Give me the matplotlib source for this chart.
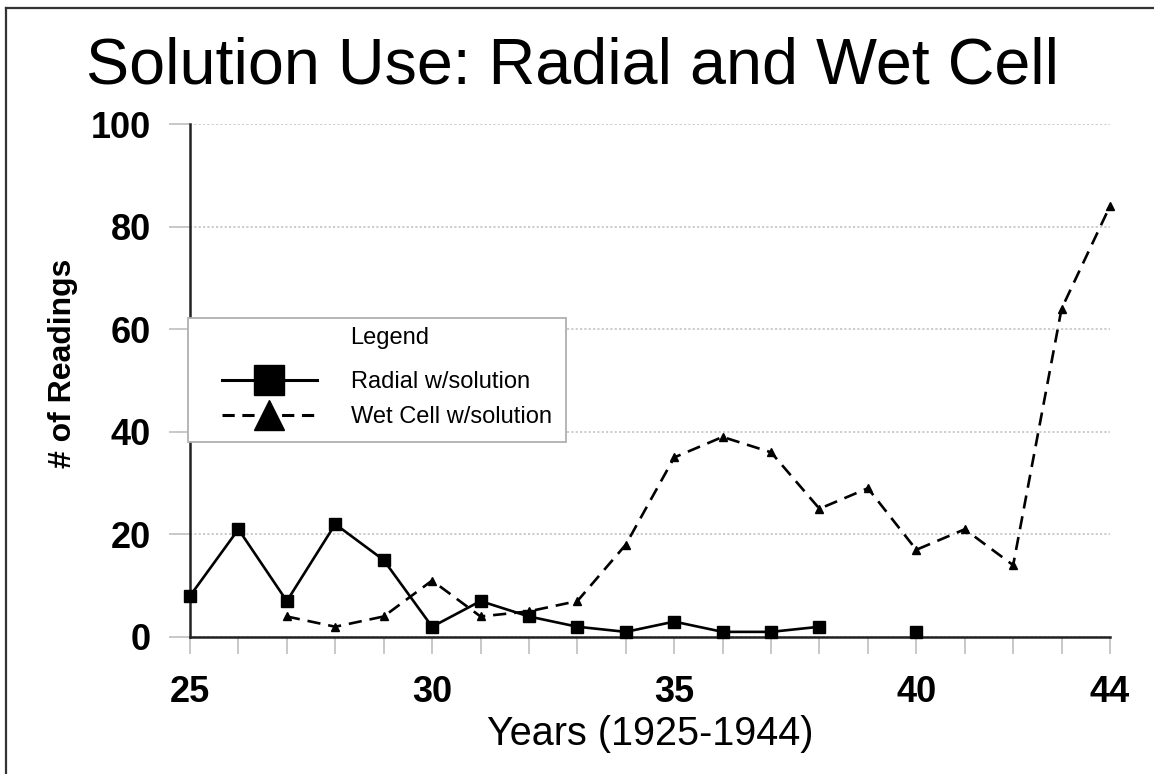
import numpy as np
import matplotlib
matplotlib.use("Agg")
import matplotlib.pyplot as plt
from matplotlib.lines import Line2D
from matplotlib.patches import Rectangle

plt.rcParams['font.family'] = ['Liberation Sans', 'DejaVu Sans']

nan = np.nan
years = list(range(25, 45))
radial = [8, 21, 7, 22, 15, 2, 7, 4, 2, 1, 3, 1, 1, 2, nan, 1, nan, nan, nan, nan]
wet_cell = [nan, nan, 4, 2, 4, 11, 4, 5, 7, 18, 35, 39, 36, 25, 29, 17, 21, 14, 64, 84]
x_tick_labels = ['25', '', '', '', '', '30', '', '', '', '', '35', '', '', '', '', '40', '', '', '', '44']
y_ticks = [0, 20, 40, 60, 80, 100]
series_names = ['Radial w/solution', 'Wet Cell w/solution']

W, H = 1154, 774
fig = plt.figure(figsize=(W / 100, H / 100), dpi=100)
ax = fig.add_axes([190 / W, 1 - 637 / H, 920 / W, 513 / H])

ax.plot(years, radial, color='black', lw=1.9, marker='s', ms=8.5,
        clip_on=False, zorder=4)
ax.plot(years, wet_cell, color='black', lw=1.9, ls=(0, (5, 3)), marker='^', ms=6,
        clip_on=False, zorder=3)

ax.set_xlim(25, 44)
ax.set_ylim(0, 100)
ax.set_xticks(years)
ax.set_xticklabels(x_tick_labels)
ax.set_yticks(y_ticks)
ax.set_yticklabels([str(v) for v in y_ticks])

for s in ['top', 'right']:
    ax.spines[s].set_visible(False)
for s in ['left', 'bottom']:
    ax.spines[s].set_linewidth(1.8)
    ax.spines[s].set_color('#222222')

ax.tick_params(axis='x', direction='out', length=12, width=1.3, color='#c4c4c4',
               pad=15, labelsize=26)
ax.tick_params(axis='y', direction='out', length=15, width=1.3, color='#c4c4c4',
               pad=13, labelsize=26)
for lab in ax.get_xticklabels() + ax.get_yticklabels():
    lab.set_fontweight('bold')

ax.yaxis.grid(True, color='#c8c8c8', ls=(0, (1.2, 1.2)), lw=1.3)
ax.set_axisbelow(True)

ax.set_xlabel('Years (1925-1944)', fontsize=28.5, labelpad=4)
ax.set_ylabel('# of Readings', fontsize=23, fontweight='bold', labelpad=10)
ax.yaxis.set_label_coords(-0.122, 0.534)

fig.text(572 / W, 1 - 84 / H, 'Solution Use: Radial and Wet Cell',
         fontsize=46.5, ha='center', va='baseline')

# legend frame
rect = Rectangle((188 / W, 1 - 442 / H), 378 / W, 124 / H, transform=fig.transFigure,
                 facecolor='white', edgecolor='#b0b0b0', lw=1.3, zorder=2)
fig.add_artist(rect)
fig.text(350 / W, 1 - 338 / H, 'Legend', fontsize=17, ha='left', va='center', zorder=6)

handles = [Line2D([], [], color='black', lw=2.2, marker='s', ms=21),
           Line2D([], [], color='black', lw=2.2, ls=(0, (4, 2.5)), marker='^', ms=21)]
leg = fig.legend(handles, series_names, loc='upper left',
                 bbox_to_anchor=(201 / W, 1 - 350 / H), frameon=False,
                 fontsize=17, handlelength=4.0, handletextpad=1.44,
                 labelspacing=0.53, numpoints=1, borderpad=0.4)
leg.set_zorder(5)

# outer border (top and left)
fig.add_artist(Line2D([6 / W, 6 / W], [0, 1 - 8 / H], transform=fig.transFigure,
                      color='#333333', lw=1.6))
fig.add_artist(Line2D([6 / W, 1], [1 - 8 / H, 1 - 8 / H], transform=fig.transFigure,
                      color='#333333', lw=1.6))

fig.savefig('out.png', dpi=100)
